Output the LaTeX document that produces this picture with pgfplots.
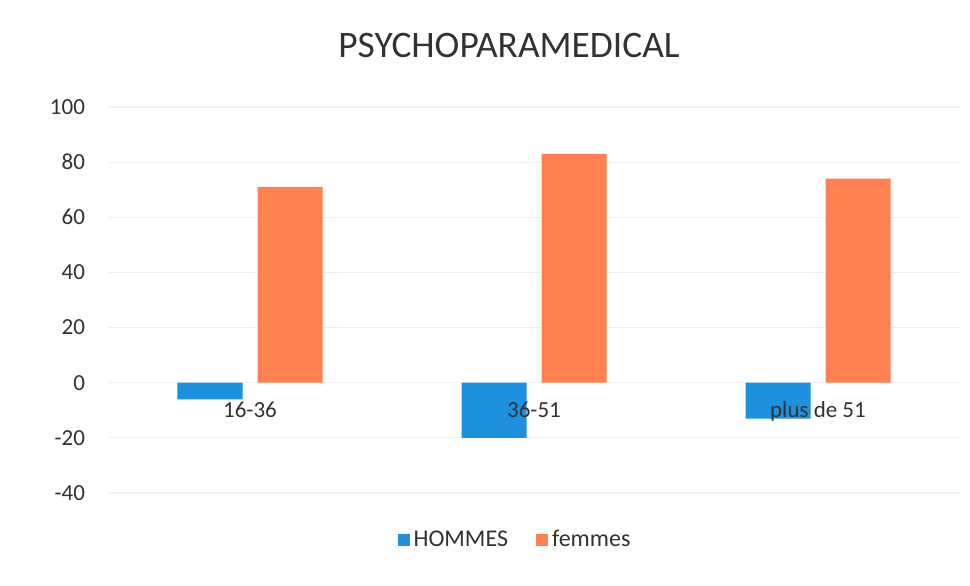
\documentclass[border=0pt]{standalone}
\usepackage{pgfplots}
\pgfplotsset{compat=1.18}
\usepackage{fontspec}
\setmainfont{Carlito}
\definecolor{hblue}{RGB}{30,144,222}
\definecolor{forange}{RGB}{255,128,80}
\definecolor{txt}{RGB}{50,50,50}
\begin{document}
\begin{tikzpicture}
\begin{axis}[
  at={(0,0)}, anchor=south west,
  scale only axis,
  width=426pt, height=193pt,
  ybar=7.5pt, bar width=32.5pt,
  xmin=-0.5, xmax=2.5,
  ymin=-40, ymax=100,
  ytick={-40,-20,0,20,40,60,80,100},
  xtick={0,1,2},
  xticklabels={},
  axis x line=middle, axis y line=left,
  axis line style={draw=none},
  hide obscured x ticks=false, hide obscured y ticks=false,
  major tick length=0pt,
  ymajorgrids,
  grid style={draw=black!6, line width=0.6pt},
  /pgf/number format/assume math mode=true,
  tick label style={font=\fontsize{11.5}{13}\selectfont, text=txt},
  yticklabel style={xshift=-8pt},
  title={PSYCHOPARAMEDICAL},
  title style={at={(0.5,1)}, anchor=base, yshift=19pt, xshift=-12.5pt,
    font=\fontsize{18.7}{22}\selectfont, text=txt},
  legend columns=2,
  legend style={at={(0.5,0)}, anchor=center, yshift=-23.5pt, xshift=-9pt,
    draw=none, fill=none, font=\fontsize{12}{14}\selectfont, text=txt,
    /tikz/every even column/.append style={column sep=12pt}},
  legend image code/.code={\fill[#1] (0pt,-3pt) rectangle (6pt,3pt);},
  extra description/.code={
    \foreach \x/\lab in {0/16-36,1/36-51,2/plus de 51}{
      \node[anchor=north, inner sep=3.33pt, yshift=-6pt,
        font=\fontsize{11.5}{13}\selectfont, text=txt] at (axis cs:\x,0) {\lab};
    }
  },
]
\addplot[fill=hblue, draw=none] coordinates {(0,-6) (1,-20) (2,-13)};
\addplot[fill=forange, draw=none] coordinates {(0,71) (1,83) (2,74)};
\legend{HOMMES, femmes}
\end{axis}
\useasboundingbox (-54pt,-46pt) rectangle (431pt,246.5pt);
\end{tikzpicture}
\end{document}
